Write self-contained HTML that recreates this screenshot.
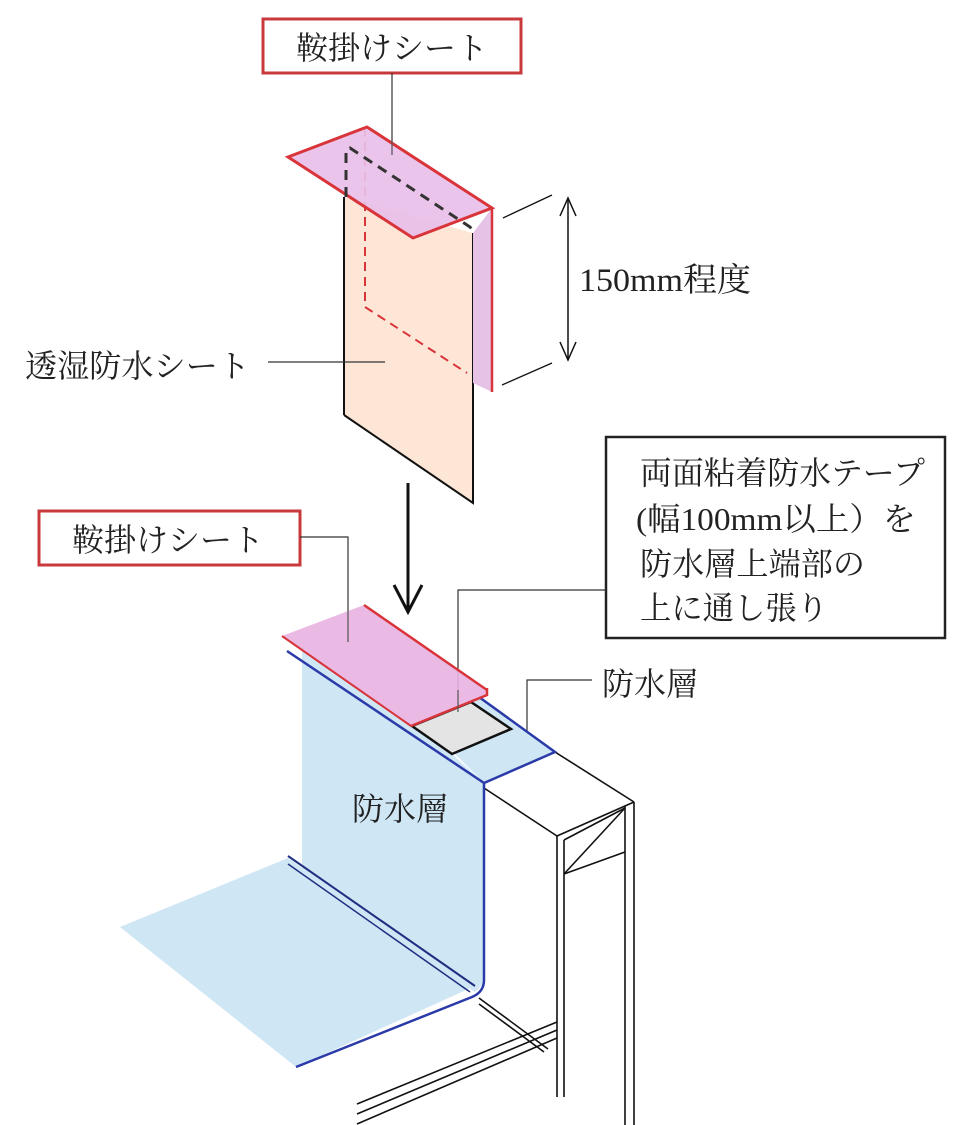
<!DOCTYPE html>
<html><head><meta charset="utf-8"><style>
body{margin:0;background:#fff}
svg{display:block}
text{font-family:"Liberation Serif","Noto Serif CJK SC","Noto Sans CJK JP",serif;fill:#222}
</style></head><body>
<svg width="977" height="1125" viewBox="0 0 977 1125" xmlns="http://www.w3.org/2000/svg">
<!-- top label -->
<rect x="263" y="19" width="258" height="54" fill="#fff" stroke="#c8393b" stroke-width="3"/>
<text x="392" y="59" font-size="32" text-anchor="middle">鞍掛けシート</text>
<line x1="392" y1="73" x2="392" y2="155" stroke="#333" stroke-width="1.2"/>

<!-- upper sheet -->
<polygon points="344,197 473,233 473,503 344,415" fill="#fde6d6"/>
<line x1="344" y1="197" x2="344" y2="415" stroke="#111" stroke-width="2"/>
<polyline points="344,415 473,503 473,233" fill="none" stroke="#111" stroke-width="2"/>
<polygon points="473,233 492,208 492,392 473,383" fill="#e6c3e6"/>
<line x1="492" y1="208" x2="492" y2="392" stroke="#d9343a" stroke-width="2.5"/>
<polyline points="365,127 365,307 467,373" fill="none" stroke="#d9343a" stroke-width="2" stroke-dasharray="9,6"/>
<polygon points="288,157 367,127 492,208 413,238" fill="#e8bfe8" fill-opacity="0.92" stroke="#d9343a" stroke-width="3"/>
<polyline points="346,197 346,150 350,148 470,227 475,233" fill="none" stroke="#333" stroke-width="3" stroke-dasharray="10,7"/>
<line x1="392" y1="140" x2="392" y2="155" stroke="#555" stroke-width="1.2"/>

<!-- dimension -->
<line x1="503" y1="218" x2="552" y2="195" stroke="#111" stroke-width="1.3"/>
<line x1="502" y1="385" x2="552" y2="363" stroke="#111" stroke-width="1.3"/>
<line x1="568" y1="198" x2="568" y2="360" stroke="#111" stroke-width="1.5"/>
<polyline points="560,216 568,198 576,216" fill="none" stroke="#111" stroke-width="1.5"/>
<polyline points="560,342 568,360 576,342" fill="none" stroke="#111" stroke-width="1.5"/>
<text x="579" y="291" font-size="33" textLength="172" lengthAdjust="spacingAndGlyphs">150mm程度</text>

<text x="25" y="377" font-size="32" textLength="225" lengthAdjust="spacingAndGlyphs">透湿防水シート</text>
<line x1="268" y1="362" x2="385" y2="362" stroke="#333" stroke-width="1.2"/>

<!-- arrow -->
<line x1="408" y1="483" x2="408" y2="610" stroke="#111" stroke-width="3"/>
<polyline points="394,585 408,612 422,585" fill="none" stroke="#111" stroke-width="3"/>

<!-- second label -->
<rect x="39" y="511" width="261" height="54" fill="#fff" stroke="#c8393b" stroke-width="3"/>
<text x="168" y="551" font-size="32" text-anchor="middle">鞍掛けシート</text>
<polyline points="300,537 348,537 348,642" fill="none" stroke="#333" stroke-width="1.2"/>

<!-- big box -->
<rect x="606" y="437" width="339" height="201" fill="#fff" stroke="#222" stroke-width="2.5"/>
<text x="640" y="484" font-size="32" textLength="285" lengthAdjust="spacingAndGlyphs">両面粘着防水テープ</text>
<text x="636" y="530" font-size="32" textLength="280" lengthAdjust="spacingAndGlyphs">(幅100mm以上）を</text>
<text x="640" y="575" font-size="32" textLength="225" lengthAdjust="spacingAndGlyphs">防水層上端部の</text>
<text x="640" y="619" font-size="32" textLength="188" lengthAdjust="spacingAndGlyphs">上に通し張り</text>
<polyline points="606,590 458,590 458,712" fill="none" stroke="#333" stroke-width="1.2"/>

<text x="602" y="695" font-size="32">防水層</text>
<polyline points="592,680 527,680 527,738" fill="none" stroke="#333" stroke-width="1.2"/>

<!-- frame -->
<g stroke="#111" stroke-width="1.6" fill="none">
<line x1="555" y1="752" x2="634" y2="802"/>
<line x1="484" y1="788" x2="557" y2="836"/>
<line x1="557" y1="836" x2="634" y2="802"/>
<line x1="557" y1="836" x2="557" y2="1097"/>
<line x1="564" y1="840" x2="564" y2="1097"/>
<line x1="625" y1="806" x2="625" y2="1125"/>
<line x1="634" y1="802" x2="634" y2="1125"/>
<line x1="564" y1="840" x2="625" y2="808"/>
<line x1="564" y1="874" x2="625" y2="852"/>
<line x1="564" y1="874" x2="625" y2="808"/>
<line x1="479" y1="998" x2="548" y2="1049"/>
<line x1="479" y1="1004" x2="544" y2="1052"/>
<line x1="357" y1="1124" x2="557" y2="1038"/>
<line x1="357" y1="1114" x2="557" y2="1030"/>
<line x1="357" y1="1104" x2="557" y2="1022"/>
</g>

<!-- blue layer -->
<polygon points="120,927 288,858 475,986 296,1067" fill="#cfe6f5"/>
<polygon points="302,651 452,754 484,783 484,983 475,992 302,875" fill="#cfe6f5"/>
<polygon points="441,740 479,697 555,752 484,783" fill="#cfe6f5"/>
<line x1="288" y1="856" x2="475" y2="986" stroke="#1e2e80" stroke-width="2"/>
<line x1="288" y1="864" x2="470" y2="992" stroke="#1e2e80" stroke-width="1.5"/>
<path d="M287,651 L484,783 L484,980 Q484,992 472,997 L296,1067" fill="none" stroke="#2a3aa8" stroke-width="2.5"/>
<polyline points="484,783 555,752 479,697" fill="none" stroke="#2a3aa8" stroke-width="2.5"/>
<!-- tape -->
<polygon points="412,726 471,702 511,729 452,754" fill="#e4e4e4" stroke="#111" stroke-width="2.5"/>
<!-- pink sheet -->
<polygon points="282,636 364,605 487,690 487,695 411,726" fill="#e8b3e2" fill-opacity="0.9"/>
<line x1="364" y1="605" x2="487" y2="690" stroke="#d9343a" stroke-width="2.5"/>
<polyline points="487,688 487,695 411,726" fill="none" stroke="#d9343a" stroke-width="2.5"/>
<line x1="282" y1="636" x2="411" y2="726" stroke="#d9343a" stroke-width="2"/>
<line x1="348" y1="600" x2="348" y2="642" stroke="#555" stroke-width="1.2"/>
<line x1="458" y1="690" x2="458" y2="712" stroke="#555" stroke-width="1.2"/>

<text x="352" y="820" font-size="32">防水層</text>
</svg>
</body></html>
